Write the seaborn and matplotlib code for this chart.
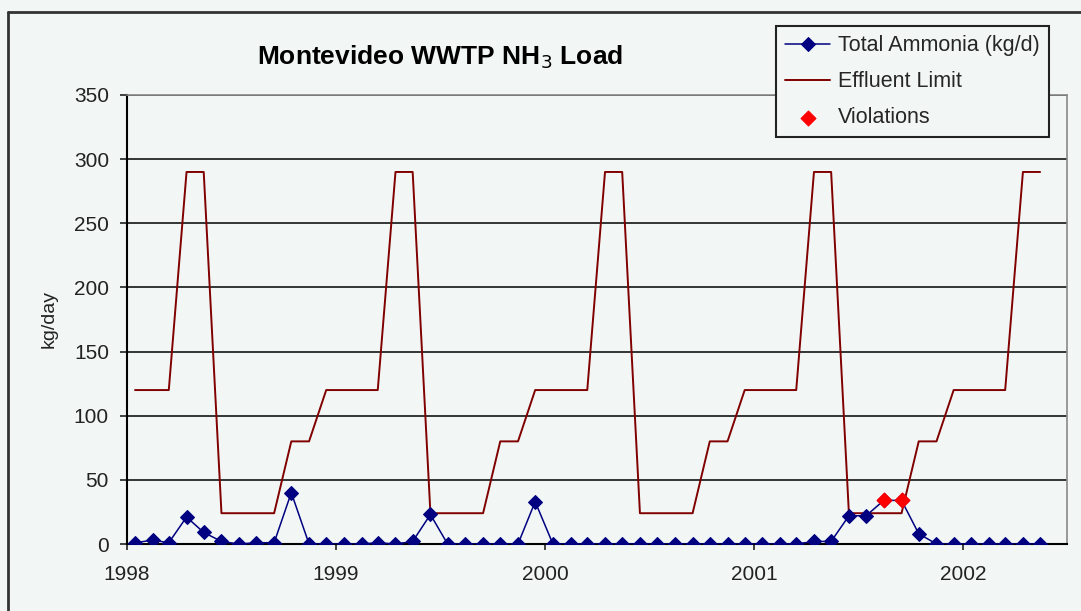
# Imports
import matplotlib.pyplot as plt
import matplotlib.dates as mdates
import seaborn as sns
import pandas as pd


# Monthly data, Jan 1998 - May 2002 (points are plotted mid-month)
months = pd.date_range('1998-01-01', '2002-05-01', freq='MS') + pd.Timedelta(days=14)

ammonia = [1, 3, 1, 21, 9, 2, 0, 1, 1, 40, 0, 0,        # 1998
           0, 0, 1, 0, 2, 23, 0, 0, 0, 0, 0, 33,        # 1999
           0, 0, 0, 0, 0, 0, 0, 0, 0, 0, 0, 0,          # 2000
           0, 0, 0, 2, 2, 22, 22, 34, 34, 8, 0, 0,      # 2001
           0, 0, 0, 0, 0]                               # 2002

effluent_limit = [120, 120, 120, 290, 290, 24, 24, 24, 24, 80, 80, 120,   # 1998
                  120, 120, 120, 290, 290, 24, 24, 24, 24, 80, 80, 120,   # 1999
                  120, 120, 120, 290, 290, 24, 24, 24, 24, 80, 80, 120,   # 2000
                  120, 120, 120, 290, 290, 24, 24, 24, 24, 80, 80, 120,   # 2001
                  120, 120, 120, 290, 290]                                # 2002

violation_months = pd.to_datetime(['2001-08-15', '2001-09-15'])
violation_values = [34, 34]

y_ticks = [0, 50, 100, 150, 200, 250, 300, 350]

df = pd.DataFrame({'month': months, 'ammonia': ammonia, 'limit': effluent_limit})
viol = pd.DataFrame({'month': violation_months, 'value': violation_values})

bg = '#F2F7F6'

sns.set_style('white')
plt.rcParams['font.family'] = ['Liberation Sans', 'DejaVu Sans']

fig = plt.figure(figsize=(10.81, 6.11), dpi=100, facecolor=bg)
ax = fig.add_axes([127 / 1081, 1 - 544 / 611, 940 / 1081, 449 / 611])
ax.set_facecolor(bg)

# series
sns.lineplot(data=df, x='month', y='ammonia', ax=ax, color='#000080', linewidth=1.1,
             marker='D', markersize=7.5, markeredgecolor='#000080',
             label='Total Ammonia (kg/d)', zorder=4)
sns.lineplot(data=df, x='month', y='limit', ax=ax, color='#800000', linewidth=1.4,
             label='Effluent Limit', zorder=3)
sns.scatterplot(data=viol, x='month', y='value', ax=ax, color='#FF0000', marker='D',
                s=60, edgecolor='#FF0000', label='Violations', zorder=5)

# axes
ax.set_xlim(pd.Timestamp('1998-01-01'), pd.Timestamp('2002-07-01'))
ax.set_ylim(0, 350)
ax.set_yticks(y_ticks)
ax.xaxis.set_major_locator(mdates.YearLocator())
ax.xaxis.set_major_formatter(mdates.DateFormatter('%Y'))
ax.set_xlabel('')
ax.set_ylabel('kg/day', fontsize=14, color='#222222', labelpad=12)

ax.yaxis.grid(True, color='black', linewidth=1.1)
ax.set_axisbelow(True)
ax.tick_params(axis='y', direction='out', length=5, width=1.2, pad=8,
               labelsize=15, colors='#222222', left=True)
ax.tick_params(axis='x', direction='out', length=4, width=1.2, pad=11,
               labelsize=15, colors='#222222', bottom=True)

for side in ['left', 'bottom']:
    ax.spines[side].set_color('black')
    ax.spines[side].set_linewidth(1.5)
for side in ['top', 'right']:
    ax.spines[side].set_color('#888888')
    ax.spines[side].set_linewidth(1.2)

# title
fig.text(440 / 1081, 1 - 57 / 611, 'Montevideo WWTP NH$_3$ Load', ha='center', va='center',
         fontsize=19, fontweight='bold', color='black')

# legend
leg = ax.legend(loc='upper left', bbox_to_anchor=(776 / 1081, 1 - 26 / 611),
                bbox_transform=fig.transFigure, fontsize=15.5, frameon=True,
                fancybox=False, framealpha=1, facecolor=bg, edgecolor='#222222',
                handlelength=2.1, handletextpad=0.35, borderpad=0.42,
                labelspacing=0.7, borderaxespad=0)
leg.get_frame().set_linewidth(1.5)
leg.set_zorder(10)

# chart area border (left and top are visible)
fig.add_artist(plt.Line2D([8 / 1081, 8 / 1081], [0, 1 - 12 / 611], color='#333333',
                          linewidth=2, transform=fig.transFigure))
fig.add_artist(plt.Line2D([8 / 1081, 1], [1 - 12 / 611, 1 - 12 / 611], color='#333333',
                          linewidth=2, transform=fig.transFigure))

fig.savefig('out.png', dpi=100, facecolor=bg)
